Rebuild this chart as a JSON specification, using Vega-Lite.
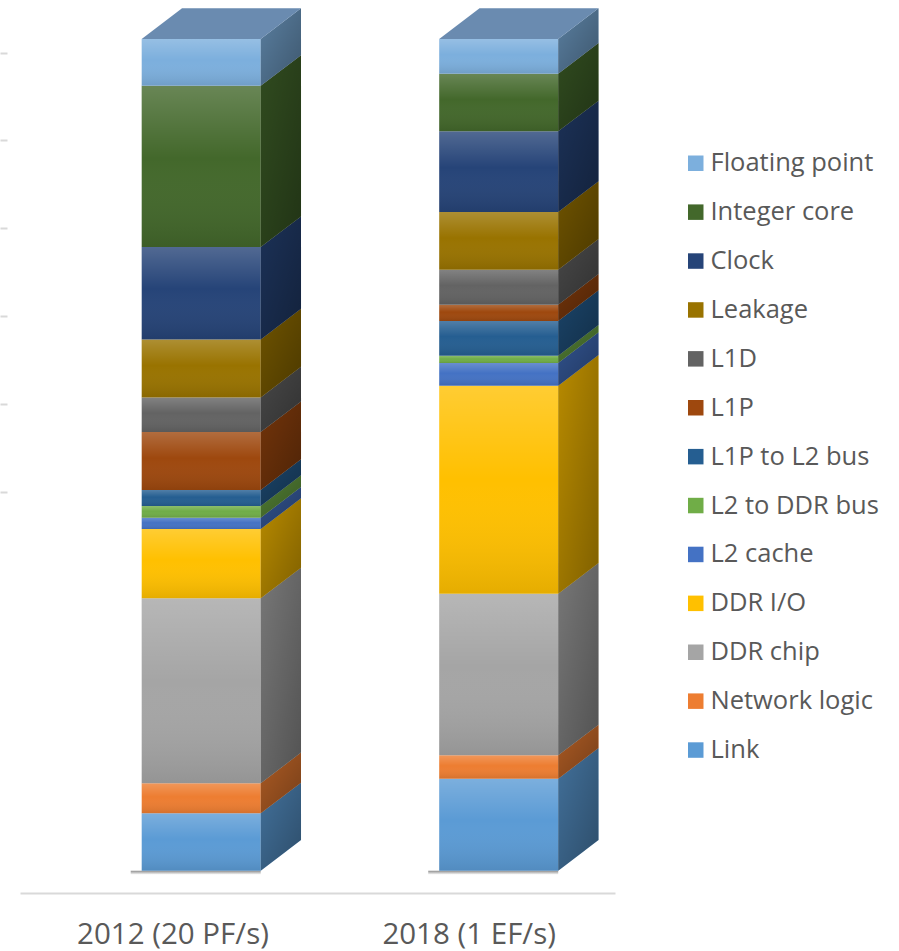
{
  "$schema": "https://vega.github.io/schema/vega-lite/v6.json",
  "width": 595,
  "height": 893,
  "autosize": "none",
  "padding": {"left": 20, "top": 0, "right": 284, "bottom": 58},
  "background": "white",
  "config": {
    "view": {"stroke": null},
    "font": "Open Sans",
    "legend": {
      "orient": "none",
      "legendX": 663,
      "legendY": 150.5,
      "padding": 0,
      "symbolType": "square",
      "symbolSize": 240,
      "symbolStrokeWidth": 0,
      "labelFontSize": 25.5,
      "labelFont": "Open Sans",
      "labelColor": "#595959",
      "labelOffset": 2,
      "rowPadding": 21.9,
      "labelLimit": 300
    }
  },
  "data": {
    "values": [
      {"year": "2012 (20 PF/s)", "component": "Link", "value": 6.90},
      {"year": "2012 (20 PF/s)", "component": "Network logic", "value": 3.61},
      {"year": "2012 (20 PF/s)", "component": "DDR chip", "value": 22.24},
      {"year": "2012 (20 PF/s)", "component": "DDR I/O", "value": 8.33},
      {"year": "2012 (20 PF/s)", "component": "L2 cache", "value": 1.36},
      {"year": "2012 (20 PF/s)", "component": "L2 to DDR bus", "value": 1.41},
      {"year": "2012 (20 PF/s)", "component": "L1P to L2 bus", "value": 1.92},
      {"year": "2012 (20 PF/s)", "component": "L1P", "value": 6.97},
      {"year": "2012 (20 PF/s)", "component": "L1D", "value": 4.17},
      {"year": "2012 (20 PF/s)", "component": "Leakage", "value": 6.97},
      {"year": "2012 (20 PF/s)", "component": "Clock", "value": 11.10},
      {"year": "2012 (20 PF/s)", "component": "Integer core", "value": 19.39},
      {"year": "2012 (20 PF/s)", "component": "Floating point", "value": 5.63},
      {"year": "2018 (1 EF/s)", "component": "Link", "value": 11.06},
      {"year": "2018 (1 EF/s)", "component": "Network logic", "value": 2.81},
      {"year": "2018 (1 EF/s)", "component": "DDR chip", "value": 19.43},
      {"year": "2018 (1 EF/s)", "component": "DDR I/O", "value": 25.01},
      {"year": "2018 (1 EF/s)", "component": "L2 cache", "value": 2.73},
      {"year": "2018 (1 EF/s)", "component": "L2 to DDR bus", "value": 0.88},
      {"year": "2018 (1 EF/s)", "component": "L1P to L2 bus", "value": 4.17},
      {"year": "2018 (1 EF/s)", "component": "L1P", "value": 1.96},
      {"year": "2018 (1 EF/s)", "component": "L1D", "value": 4.21},
      {"year": "2018 (1 EF/s)", "component": "Leakage", "value": 6.94},
      {"year": "2018 (1 EF/s)", "component": "Clock", "value": 9.70},
      {"year": "2018 (1 EF/s)", "component": "Integer core", "value": 6.93},
      {"year": "2018 (1 EF/s)", "component": "Floating point", "value": 4.17}
    ]
  },
  "transform": [
    {"calculate": "indexof(['Link','Network logic','DDR chip','DDR I/O','L2 cache','L2 to DDR bus','L1P to L2 bus','L1P','L1D','Leakage','Clock','Integer core','Floating point'], datum.component)", "as": "ord"},
    {"calculate": "datum.year === '2012 (20 PF/s)' ? 1 : 2", "as": "ci"},
    {"stack": "value", "groupby": ["year"], "sort": [{"field": "ord", "order": "ascending"}], "as": ["y0", "y1"]},
    {"calculate": "datum.ci - 0.2", "as": "xl"},
    {"calculate": "datum.ci + 0.2", "as": "xr"}
  ],
  "layer": [
    {
      "transform": [{"filter": "datum.component === 'Link'"}],
      "mark": {
        "type": "rect",
        "yOffset": 4,
        "xOffset": -11,
        "fill": {"gradient": "linear", "x1": 0, "y1": 0, "x2": 0, "y2": 1,
          "stops": [{"offset": 0, "color": "rgba(0,0,0,0.45)"}, {"offset": 1, "color": "rgba(0,0,0,0)"}]}
      },
      "encoding": {
        "x": {
          "field": "xl", "type": "quantitative",
          "scale": {"domain": [0.3909, 2.3909], "nice": false, "zero": false},
          "axis": {
            "title": null, "values": [0.9035, 1.899], "grid": false, "ticks": false, "tickSize": 0,
            "domainColor": "#d9d9d9", "domainWidth": 2,
            "labelExpr": "datum.value < 1.5 ? '2012 (20 PF/s)' : '2018 (1 EF/s)'",
            "labelFontSize": 29.5, "labelColor": "#595959", "labelFont": "Open Sans",
            "labelBaseline": "alphabetic", "labelPadding": 50, "labelLimit": 400,
            "labelAlign": "center", "labelFlush": false, "labelOverlap": false
          }
        },
        "x2": {"field": "xr"},
        "y": {
          "field": "y0", "type": "quantitative",
          "scale": {"domain": [-2.68, 104.69], "nice": false, "zero": false},
          "axis": {
            "title": null, "values": [45.53, 56.08, 66.66, 77.24, 87.82, 98.32],
            "labels": false, "domain": false, "grid": false,
            "ticks": true, "tickSize": 7, "tickWidth": 2, "tickColor": "#d9d9d9", "offset": 13
          }
        },
        "y2": {"field": "y0"}
      }
    },
    {
      "mark": {"type": "rect"},
      "encoding": {
        "x": {
          "field": "xl", "type": "quantitative",
          "scale": {"domain": [0.3909, 2.3909], "nice": false, "zero": false},
          "axis": {
            "title": null, "values": [0.9035, 1.899], "grid": false, "ticks": false, "tickSize": 0,
            "domainColor": "#d9d9d9", "domainWidth": 2,
            "labelExpr": "datum.value < 1.5 ? '2012 (20 PF/s)' : '2018 (1 EF/s)'",
            "labelFontSize": 29.5, "labelColor": "#595959", "labelFont": "Open Sans",
            "labelBaseline": "alphabetic", "labelPadding": 50, "labelLimit": 400,
            "labelAlign": "center", "labelFlush": false, "labelOverlap": false
          }
        },
        "x2": {"field": "xr"},
        "y": {
          "field": "y0", "type": "quantitative",
          "scale": {"domain": [-2.68, 104.69], "nice": false, "zero": false},
          "axis": {
            "title": null, "values": [45.53, 56.08, 66.66, 77.24, 87.82, 98.32],
            "labels": false, "domain": false, "grid": false,
            "ticks": true, "tickSize": 7, "tickWidth": 2, "tickColor": "#d9d9d9", "offset": 13
          }
        },
        "y2": {"field": "y1"},
        "color": {
          "field": "component", "type": "nominal",
          "scale": {
            "domain": ["Floating point", "Integer core", "Clock", "Leakage", "L1D", "L1P", "L1P to L2 bus", "L2 to DDR bus", "L2 cache", "DDR I/O", "DDR chip", "Network logic", "Link"],
            "range": ["#7cafdd", "#43682b", "#264478", "#997300", "#636363", "#9e480e", "#255e91", "#70ad47", "#4472c4", "#ffc000", "#a5a5a5", "#ed7d31", "#5b9bd5"]
          },
          "legend": {"title": null}
        }
      }
    },
    {
      "mark": {
        "type": "rect",
        "fill": {"gradient": "linear", "x1": 0, "y1": 0, "x2": 0, "y2": 1,
          "stops": [
            {"offset": 0, "color": "rgba(255,255,255,0.2)"},
            {"offset": 0.45, "color": "rgba(255,255,255,0)"},
            {"offset": 1, "color": "rgba(0,0,0,0.1)"}
          ]}
      },
      "encoding": {
        "x": {
          "field": "xl", "type": "quantitative",
          "scale": {"domain": [0.3909, 2.3909], "nice": false, "zero": false},
          "axis": {
            "title": null, "values": [0.9035, 1.899], "grid": false, "ticks": false, "tickSize": 0,
            "domainColor": "#d9d9d9", "domainWidth": 2,
            "labelExpr": "datum.value < 1.5 ? '2012 (20 PF/s)' : '2018 (1 EF/s)'",
            "labelFontSize": 29.5, "labelColor": "#595959", "labelFont": "Open Sans",
            "labelBaseline": "alphabetic", "labelPadding": 50, "labelLimit": 400,
            "labelAlign": "center", "labelFlush": false, "labelOverlap": false
          }
        },
        "x2": {"field": "xr"},
        "y": {
          "field": "y0", "type": "quantitative",
          "scale": {"domain": [-2.68, 104.69], "nice": false, "zero": false},
          "axis": {
            "title": null, "values": [45.53, 56.08, 66.66, 77.24, 87.82, 98.32],
            "labels": false, "domain": false, "grid": false,
            "ticks": true, "tickSize": 7, "tickWidth": 2, "tickColor": "#d9d9d9", "offset": 13
          }
        },
        "y2": {"field": "y1"}
      }
    },
    {
      "transform": [
        {"calculate": "[0, 1]", "as": "e"},
        {"flatten": ["e"]},
        {"calculate": "datum.xr + datum.e * 0.1355", "as": "sx"},
        {"calculate": "datum.y0 + datum.e * 3.69", "as": "sy0"},
        {"calculate": "datum.y1 + datum.e * 3.69", "as": "sy1"}
      ],
      "mark": {"type": "area", "interpolate": "linear"},
      "encoding": {
        "x": {
          "field": "sx", "type": "quantitative",
          "scale": {"domain": [0.3909, 2.3909], "nice": false, "zero": false},
          "axis": {
            "title": null, "values": [0.9035, 1.899], "grid": false, "ticks": false, "tickSize": 0,
            "domainColor": "#d9d9d9", "domainWidth": 2,
            "labelExpr": "datum.value < 1.5 ? '2012 (20 PF/s)' : '2018 (1 EF/s)'",
            "labelFontSize": 29.5, "labelColor": "#595959", "labelFont": "Open Sans",
            "labelBaseline": "alphabetic", "labelPadding": 50, "labelLimit": 400,
            "labelAlign": "center", "labelFlush": false, "labelOverlap": false
          }
        },
        "y": {
          "field": "sy0", "type": "quantitative", "stack": null,
          "scale": {"domain": [-2.68, 104.69], "nice": false, "zero": false},
          "axis": {
            "title": null, "values": [45.53, 56.08, 66.66, 77.24, 87.82, 98.32],
            "labels": false, "domain": false, "grid": false,
            "ticks": true, "tickSize": 7, "tickWidth": 2, "tickColor": "#d9d9d9", "offset": 13
          }
        },
        "y2": {"field": "sy1"},
        "color": {
          "field": "component", "type": "nominal",
          "scale": {
            "domain": ["Floating point", "Integer core", "Clock", "Leakage", "L1D", "L1P", "L1P to L2 bus", "L2 to DDR bus", "L2 cache", "DDR I/O", "DDR chip", "Network logic", "Link"],
            "range": ["#7cafdd", "#43682b", "#264478", "#997300", "#636363", "#9e480e", "#255e91", "#70ad47", "#4472c4", "#ffc000", "#a5a5a5", "#ed7d31", "#5b9bd5"]
          },
          "legend": {"title": null}
        },
        "detail": {"field": "year", "type": "nominal"}
      }
    },
    {
      "transform": [
        {"calculate": "[0, 1]", "as": "e"},
        {"flatten": ["e"]},
        {"calculate": "datum.xr + datum.e * 0.1355", "as": "sx"},
        {"calculate": "datum.y0 + datum.e * 3.69", "as": "sy0"},
        {"calculate": "datum.y1 + datum.e * 3.69", "as": "sy1"}
      ],
      "mark": {
        "type": "area", "interpolate": "linear",
        "fill": {"gradient": "linear", "x1": 0, "y1": 0, "x2": 1, "y2": 1,
          "stops": [
            {"offset": 0, "color": "rgba(0,0,0,0.28)"},
            {"offset": 1, "color": "rgba(0,0,0,0.5)"}
          ]}
      },
      "encoding": {
        "x": {
          "field": "sx", "type": "quantitative",
          "scale": {"domain": [0.3909, 2.3909], "nice": false, "zero": false},
          "axis": {
            "title": null, "values": [0.9035, 1.899], "grid": false, "ticks": false, "tickSize": 0,
            "domainColor": "#d9d9d9", "domainWidth": 2,
            "labelExpr": "datum.value < 1.5 ? '2012 (20 PF/s)' : '2018 (1 EF/s)'",
            "labelFontSize": 29.5, "labelColor": "#595959", "labelFont": "Open Sans",
            "labelBaseline": "alphabetic", "labelPadding": 50, "labelLimit": 400,
            "labelAlign": "center", "labelFlush": false, "labelOverlap": false
          }
        },
        "y": {
          "field": "sy0", "type": "quantitative", "stack": null,
          "scale": {"domain": [-2.68, 104.69], "nice": false, "zero": false},
          "axis": {
            "title": null, "values": [45.53, 56.08, 66.66, 77.24, 87.82, 98.32],
            "labels": false, "domain": false, "grid": false,
            "ticks": true, "tickSize": 7, "tickWidth": 2, "tickColor": "#d9d9d9", "offset": 13
          }
        },
        "y2": {"field": "sy1"},
        "detail": [{"field": "year", "type": "nominal"}, {"field": "component", "type": "nominal"}]
      }
    },
    {
      "transform": [
        {"filter": "datum.component === 'Floating point'"},
        {"calculate": "[0, 1]", "as": "e"},
        {"flatten": ["e"]},
        {"calculate": "datum.y1 + datum.e * 3.69", "as": "ty"},
        {"calculate": "datum.xl + datum.e * 0.1355", "as": "tx0"},
        {"calculate": "datum.xr + datum.e * 0.1355", "as": "tx1"}
      ],
      "mark": {"type": "area", "orient": "horizontal", "interpolate": "linear", "color": "#6a8bb0"},
      "encoding": {
        "y": {
          "field": "ty", "type": "quantitative",
          "scale": {"domain": [-2.68, 104.69], "nice": false, "zero": false},
          "axis": {
            "title": null, "values": [45.53, 56.08, 66.66, 77.24, 87.82, 98.32],
            "labels": false, "domain": false, "grid": false,
            "ticks": true, "tickSize": 7, "tickWidth": 2, "tickColor": "#d9d9d9", "offset": 13
          }
        },
        "x": {
          "field": "tx0", "type": "quantitative", "stack": null,
          "scale": {"domain": [0.3909, 2.3909], "nice": false, "zero": false},
          "axis": {
            "title": null, "values": [0.9035, 1.899], "grid": false, "ticks": false, "tickSize": 0,
            "domainColor": "#d9d9d9", "domainWidth": 2,
            "labelExpr": "datum.value < 1.5 ? '2012 (20 PF/s)' : '2018 (1 EF/s)'",
            "labelFontSize": 29.5, "labelColor": "#595959", "labelFont": "Open Sans",
            "labelBaseline": "alphabetic", "labelPadding": 50, "labelLimit": 400,
            "labelAlign": "center", "labelFlush": false, "labelOverlap": false
          }
        },
        "x2": {"field": "tx1"},
        "detail": {"field": "year", "type": "nominal"}
      }
    }
  ]
}
